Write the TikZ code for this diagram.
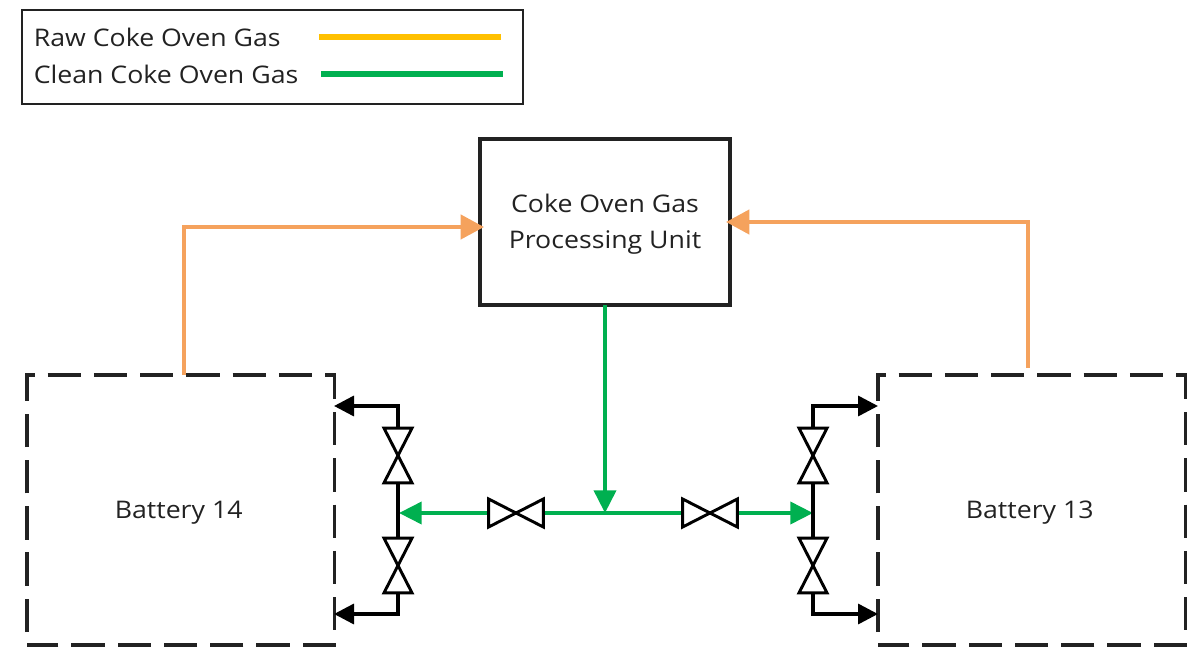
\documentclass[tikz,border=0pt]{standalone}
\usepackage{fontspec}
\setmainfont{Open Sans}[FakeStretch=1.1]
\usetikzlibrary{arrows.meta}
\definecolor{rawgas}{HTML}{FFC000}
\definecolor{cleangas}{HTML}{00B050}
\definecolor{feed}{HTML}{F5A25D}
\definecolor{ink}{HTML}{222222}
\tikzset{
  x=0.75pt,y=-0.75pt,
  label text/.style={inner sep=0pt,text=ink,font=\fontsize{18.2}{20}\selectfont},
  legendbox/.style={draw=ink,line width=1.6pt,anchor=north west,inner sep=0pt,outer sep=0pt,minimum width=375.75pt,minimum height=70.5pt},
  unitbox/.style={draw=ink,line width=2.3pt,anchor=north west,inner sep=0pt,outer sep=0pt,minimum width=187.5pt,minimum height=124.5pt,align=center,text=ink,font=\fontsize{18.2}{27.5}\selectfont},
  batterybox/.style={anchor=north west,inner sep=0pt,outer sep=0pt,minimum width=230.5pt,minimum height=202.5pt,text=ink,text height=13.1pt,text depth=0pt,font=\fontsize{18.2}{20}\selectfont},
  batteryedge/.style={draw=ink,line width=2.3pt,line join=miter,dash pattern=on 25pt off 9.7pt,dash phase=25pt},
  legendline/.style={line width=4.5pt},
  feedline/.style={draw=feed,line width=3.2pt,-{Triangle[length=17.5pt,width=18pt]}},
  cleanline/.style={draw=cleangas,line width=2.8pt,-{Triangle[length=17pt,width=16.5pt]}},
  cleanplain/.style={draw=cleangas,line width=2.8pt},
  blackline/.style={draw=black,line width=2.6pt,-{Triangle[length=15pt,width=15pt]}},
  blackplain/.style={draw=black,line width=2.6pt},
  vvalve/.style={inner sep=0pt,outer sep=0pt,minimum width=21pt,minimum height=41pt},
  hvalve/.style={inner sep=0pt,outer sep=0pt,minimum width=41pt,minimum height=21pt},
  valvebody/.style={draw=black,line width=2.2pt,line join=miter},
}
\begin{document}
\begin{tikzpicture}
\useasboundingbox (0,0) rectangle (1194,648);
% legend
\node[legendbox] (legend) at (22,10) {};
\node[label text,anchor=west] (rawlabel) at (33.5,37) {Raw Coke Oven Gas};
\node[label text,anchor=west] (cleanlabel) at (33.5,74) {Clean Coke Oven Gas};
\coordinate (rawa) at (319,37); \coordinate (rawb) at (501,37);
\coordinate (cleana) at (321,74.5); \coordinate (cleanb) at (503,74.5);
\draw[legendline,rawgas] (rawa) -- (rawb);
\draw[legendline,cleangas] (cleana) -- (cleanb);
% units
\node[unitbox] (unit) at (480,139) {\rule{0pt}{17pt}Coke Oven Gas\\Processing Unit};
\node[batterybox] (b14) at (27,375) {Battery 14\kern3pt\relax};
\node[batterybox] (b13) at (878,375) {Battery 13\kern3pt\relax};
\foreach \b in {b14,b13}
  \draw[batteryedge] (\b.south west) -- (\b.north west) -- (\b.north east) -- (\b.south east) -- cycle;
% junction points
\coordinate (jc) at (605,513);
\coordinate (jl) at (399,513);
\coordinate (jr) at (813,513);
% valves
\node[hvalve] (vhl) at (516,513) {};
\node[hvalve] (vhr) at (710,513) {};
\node[vvalve] (vl1) at (398,455.5) {};
\node[vvalve] (vl2) at (398,565.5) {};
\node[vvalve] (vr1) at (813,455.5) {};
\node[vvalve] (vr2) at (813,565.5) {};
% feed lines
\coordinate (o1) at (184,227);
\coordinate (o2) at (1028,222);
\draw[feedline] (184,375) -- (o1) -- ([xshift=3pt]unit.west |- o1);
\draw[feedline] (1028,368) -- (o2) -- ([xshift=-3pt]unit.east |- o2);
% clean lines
\draw[cleanline] (unit.south) -- (jc);
\draw[cleanplain] (vhl.east) -- (vhr.west);
\draw[cleanline] (vhl.west) -- (jl);
\draw[cleanline] (vhr.east) -- (jr);
% black piping
\draw[blackplain] (vl1.south) -- (vl2.north);
\draw[blackplain] (vr1.south) -- (vr2.north);
\coordinate (tl) at (334,406); \coordinate (bl) at (334,614);
\coordinate (tr) at (878,406); \coordinate (br) at (878,614);
\draw[blackline] (vl1.north) -- (vl1.north |- tl) -- (tl);
\draw[blackline] (vl2.south) -- (vl2.south |- bl) -- (bl);
\draw[blackline] (vr1.north) -- (vr1.north |- tr) -- (tr);
\draw[blackline] (vr2.south) -- (vr2.south |- br) -- (br);
% valve bodies
\foreach \v in {vl1,vl2,vr1,vr2}
  \draw[valvebody] (\v.north west) -- (\v.north east) -- (\v.south west) -- (\v.south east) -- cycle;
\foreach \v in {vhl,vhr}
  \draw[valvebody] (\v.north west) -- (\v.south west) -- (\v.north east) -- (\v.south east) -- cycle;
\end{tikzpicture}
\end{document}
